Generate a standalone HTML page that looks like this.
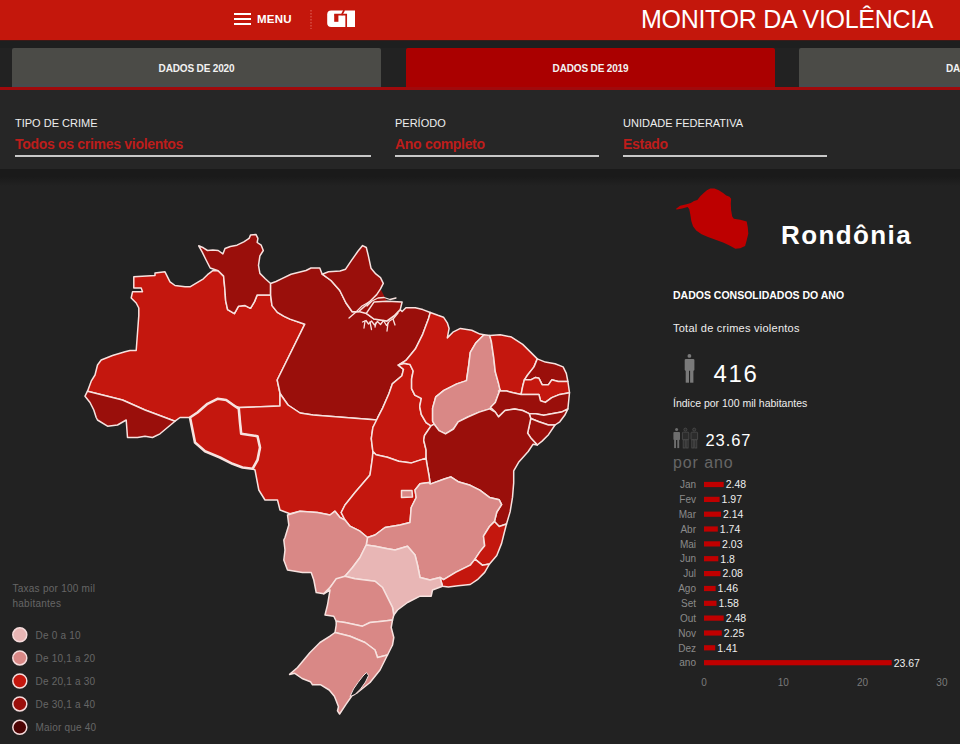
<!DOCTYPE html>
<html><head><meta charset="utf-8">
<style>
*{margin:0;padding:0;box-sizing:border-box}
html,body{width:960px;height:744px;overflow:hidden;background:#222222;font-family:"Liberation Sans",sans-serif}
.abs{position:absolute;white-space:nowrap}
#hdr{position:absolute;left:0;top:0;width:960px;height:40px;background:#c4170c}
.tab{position:absolute;top:48px;height:40px;background:#4b4b47;border-bottom:4px solid #484b4d;color:#f2f2f2;font-size:10px;font-weight:bold;text-align:center;line-height:41px;border-radius:2px 2px 0 0;letter-spacing:-0.15px}
.tab.on{background:#aa0000;border-bottom-color:#aa0000}
#redline{position:absolute;left:0;top:87px;width:960px;height:3px;background:#a00a0c}
#filters{position:absolute;left:0;top:90px;width:960px;height:79px;background:#262626}
#shadow{position:absolute;left:0;top:169px;width:960px;height:17px;background:linear-gradient(#1a1a1a 0%,#1a1a1a 45%,#222222 100%)}
#band{position:absolute;left:0;top:40px;width:960px;height:8px;background:#1e1f1f;border-top:1px solid #3a1a18}
.flab{position:absolute;top:117px;color:#eeeeee;font-size:11px}
.fval{position:absolute;top:135.5px;color:#bd1d1b;font-size:14px;font-weight:bold;letter-spacing:-0.3px}
.fline{position:absolute;top:155px;height:1.6px;background:#c8c8c8}
</style></head><body>
<div id="hdr"></div>
<div id="band"></div>
<svg class="abs" style="left:0;top:0" width="960" height="40">
  <rect x="234" y="13" width="17" height="2" fill="#fff"/>
  <rect x="234" y="18" width="17" height="2" fill="#fff"/>
  <rect x="234" y="23" width="17" height="2" fill="#fff"/>
  <line x1="311" y1="10" x2="311" y2="29" stroke="#e06a60" stroke-width="1" stroke-dasharray="1.5,1.5"/>
</svg>
<div class="abs" style="left:257px;top:12px;color:#fff;font-size:11.5px;font-weight:bold;line-height:14px;letter-spacing:0.25px">MENU</div>
<svg class="abs" style="left:0;top:0" width="400" height="40">
  <path d="M327.2,14.5 Q327.2,10.5 331.2,10.5 L355,10.5 L355,27.1 L331.2,27.1 Q327.2,27.1 327.2,23.1 Z" fill="#fff"/>
  <rect x="334.2" y="14.6" width="4.2" height="7.2" fill="#c4170c"/>
  <path d="M344.2,10 L341.8,14.6 L334.2,14.6" stroke="#c4170c" stroke-width="1.7" fill="none"/>
  <path d="M341.8,14.6 L346.2,14.6 L346.2,27.6" stroke="#c4170c" stroke-width="1.7" fill="none"/>
</svg>
<div class="abs" style="left:641px;top:4px;color:#fff;font-size:25px;line-height:30px;letter-spacing:-0.3px">MONITOR DA VIOLÊNCIA</div>

<div class="tab" style="left:12px;width:369px">DADOS DE 2020</div>
<div class="tab on" style="left:406px;width:369px">DADOS DE 2019</div>
<div class="tab" style="left:799px;width:200px;text-align:left;padding-left:147px">DADOS DE 2018</div>
<div id="redline"></div>

<div id="filters"></div>
<div id="shadow"></div>
<div class="flab abs" style="left:15px">TIPO DE CRIME</div>
<div class="fval abs" style="left:15px">Todos os crimes violentos</div>
<div class="fline" style="left:15px;width:356px"></div>
<div class="flab abs" style="left:395px">PERÍODO</div>
<div class="fval abs" style="left:395px">Ano completo</div>
<div class="fline" style="left:395px;width:204px"></div>
<div class="flab abs" style="left:623px">UNIDADE FEDERATIVA</div>
<div class="fval abs" style="left:623px">Estado</div>
<div class="fline" style="left:623px;width:204px"></div>

<svg class="abs" style="left:0;top:0" width="960" height="744" font-family="Liberation Sans">
<polygon points="349.0,318.0 352.2,311.8 358.8,311.5 366.3,304.9 371.0,300.2 376.7,294.6 380.5,288.9 387.0,301.2 373.9,302.1 366.3,313.4 362.0,323.0" fill="#9a0f0b"/>
<polygon points="133.8,276.8 155.0,275.5 155.0,273.0 165.0,271.8 167.5,276.8 170.0,281.8 175.0,285.5 185.0,286.8 190.0,286.8 196.7,282.8 203.4,278.8 207.5,274.7 212.8,270.7 218.2,270.7 223.6,276.1 224.9,289.5 225.6,300.3 227.6,309.7 234.4,313.7 238.4,306.3 245.1,305.6 250.5,308.3 254.5,301.6 257.2,294.9 270.6,294.9 272.0,305.6 277.4,312.4 284.1,316.4 290.0,319.1 304.8,324.2 277.2,380.0 280.0,393.0 280.0,406.0 240.0,407.5 235.0,406.2 226.2,400.0 217.5,398.8 207.5,403.8 197.5,412.5 190.0,417.5 180.0,417.5 175.0,421.2 145.0,410.0 122.5,400.0 87.5,391.2 91.2,381.2 95.0,375.0 97.5,365.0 101.2,360.0 112.5,355.5 125.0,351.8 130.0,350.5 136.2,350.5 138.8,315.5 138.8,308.0 136.2,303.0 131.2,298.0 132.5,291.8 142.5,291.8 141.2,288.0 133.8,288.0" fill="#c4170e" stroke="#f7e2df" stroke-width="1.5" stroke-linejoin="round"/>
<polygon points="198.7,245.8 203.4,247.8 207.5,250.5 212.8,249.9 218.2,250.5 222.9,253.9 225.0,248.5 230.3,246.5 237.0,245.2 243.8,241.8 249.1,238.4 250.5,235.1 255.9,234.4 257.9,238.4 257.2,242.5 261.2,245.2 263.3,250.5 259.9,255.9 258.5,265.3 259.9,273.4 265.3,278.8 270.6,283.5 270.6,294.9 257.2,294.9 254.5,301.6 250.5,308.3 245.1,305.6 238.4,306.3 234.4,313.7 227.6,309.7 225.6,300.3 224.9,289.5 223.6,276.1 218.2,270.7 210.2,268.0 206.1,260.0 202.1,251.9" fill="#9a0f0b" stroke="#f7e2df" stroke-width="1.5" stroke-linejoin="round"/>
<polygon points="87.5,391.2 122.5,400.0 145.0,410.0 175.0,421.2 167.5,427.5 160.0,433.8 152.5,437.5 145.0,436.2 137.5,437.5 127.5,437.5 126.2,420.0 117.5,425.0 107.5,426.2 97.5,420.0 96.2,417.5 93.8,410.0 90.0,402.5 85.0,396.2" fill="#9a0f0b" stroke="#f7e2df" stroke-width="1.5" stroke-linejoin="round"/>
<polygon points="270.6,283.5 276.0,281.5 281.4,278.8 291.0,274.2 306.0,270.5 311.0,268.0 319.8,268.0 322.2,274.2 331.0,280.5 339.8,290.5 346.0,303.0 352.2,311.8 358.8,311.5 366.3,313.4 373.9,319.0 387.0,320.9 394.6,315.3 400.2,309.6 402.1,311.5 405.9,307.7 415.3,307.7 422.8,309.6 430.3,312.5 428.4,319.0 422.8,334.1 415.3,349.1 405.9,360.4 398.3,365.1 403.5,369.4 401.9,375.8 392.3,383.9 389.0,393.5 382.6,408.1 377.7,417.7 377.5,420.0 313.0,415.0 300.0,413.0 288.0,405.0 281.0,395.0 280.0,393.0 277.2,380.0 304.8,324.2 290.0,319.1 284.1,316.4 277.4,312.4 272.0,305.6 270.6,294.9" fill="#9a0f0b" stroke="#f7e2df" stroke-width="1.5" stroke-linejoin="round"/>
<polygon points="373.9,302.1 387.0,301.2 402.1,302.1 400.2,309.6 394.6,315.3 387.0,320.9 373.9,319.0 366.3,313.4" fill="#9a0f0b" stroke="#f7e2df" stroke-width="1.5" stroke-linejoin="round"/>
<polygon points="322.2,274.2 328.5,271.8 340.0,271.0 345.6,269.2 351.3,260.7 357.9,251.3 362.6,245.6 366.3,247.5 368.2,255.1 371.0,268.2 375.8,273.9 380.5,277.6 383.3,283.3 380.5,288.9 376.7,294.6 371.0,300.2 366.3,304.9 358.8,311.5 352.2,311.8 346.0,303.0 339.8,290.5 331.0,280.5" fill="#9a0f0b" stroke="#f7e2df" stroke-width="1.5" stroke-linejoin="round"/>
<polygon points="240.0,407.5 280.0,406.0 280.0,393.0 281.0,395.0 288.0,405.0 300.0,413.0 313.0,415.0 377.5,420.0 372.9,427.4 371.3,438.7 372.9,451.6 372.5,457.5 370.0,475.0 355.0,492.5 345.0,505.0 341.2,512.5 345.0,520.0 340.0,517.5 335.0,511.2 330.0,515.0 317.5,512.5 300.0,511.2 290.0,513.8 280.0,510.0 277.5,500.0 265.0,500.0 258.8,490.0 255.0,470.0 252.5,468.8 257.5,460.0 260.0,447.5 257.5,436.2 241.2,433.8 240.0,422.5 238.8,408.8" fill="#c4170e" stroke="#f7e2df" stroke-width="1.5" stroke-linejoin="round"/>
<polygon points="398.3,365.1 404.0,363.3 410.0,364.5 413.2,371.0 411.6,379.0 411.6,388.7 414.8,395.2 421.3,398.4 419.7,406.5 421.3,414.5 426.1,422.6 431.0,425.8 424.5,435.5 423.7,440.3 426.1,450.0 426.1,458.1 411.6,462.9 398.7,461.3 387.4,457.3 376.1,454.8 372.9,451.6 371.3,438.7 372.9,427.4 377.7,417.7 382.6,408.1 389.0,393.5 392.3,383.9 401.9,375.8 403.5,369.4" fill="#c4170e" stroke="#f7e2df" stroke-width="1.5" stroke-linejoin="round"/>
<polygon points="430.3,312.5 437.9,315.3 443.5,317.2 447.3,322.8 449.1,328.4 447.3,337.9 452.9,332.2 460.4,328.4 471.7,330.3 480.0,334.1 484.0,334.7 476.0,342.7 470.3,352.4 468.7,365.3 466.5,380.6 456.8,383.9 443.9,390.3 435.8,396.8 432.6,408.1 432.6,421.0 434.2,424.2 431.0,425.8 426.1,422.6 421.3,414.5 419.7,406.5 421.3,398.4 414.8,395.2 411.6,388.7 411.6,379.0 413.2,371.0 410.0,364.5 404.0,363.3 398.3,365.1 405.9,360.4 415.3,349.1 422.8,334.1 428.4,319.0" fill="#c4170e" stroke="#f7e2df" stroke-width="1.5" stroke-linejoin="round"/>
<polygon points="484.0,334.7 489.7,335.5 491.3,341.1 493.7,357.3 495.3,371.8 498.5,383.1 500.2,389.5 497.7,396.0 495.3,402.4 489.7,408.9 479.2,412.1 467.9,417.0 458.2,421.8 453.5,429.0 445.5,433.9 439.0,430.6 434.2,424.2 432.6,421.0 432.6,408.1 435.8,396.8 443.9,390.3 456.8,383.9 466.5,380.6 468.7,365.3 470.3,352.4 476.0,342.7" fill="#d98886" stroke="#f7e2df" stroke-width="1.5" stroke-linejoin="round"/>
<polygon points="489.7,335.5 500.2,334.7 511.5,337.1 522.7,344.4 530.8,352.4 537.3,358.9 534.0,366.9 527.6,375.0 524.4,379.8 522.7,386.3 521.1,394.4 513.1,392.7 506.6,391.1 500.2,391.1 498.5,383.1 495.3,371.8 493.7,357.3 491.3,341.1" fill="#c4170e" stroke="#f7e2df" stroke-width="1.5" stroke-linejoin="round"/>
<polygon points="537.3,358.9 545.3,362.1 555.0,363.7 563.1,366.9 566.3,373.4 567.9,381.5 558.2,381.5 551.8,379.8 548.5,384.7 542.1,384.7 538.9,378.2 535.6,377.4 530.8,379.8 524.4,379.8 527.6,375.0 534.0,366.9" fill="#9a0f0b" stroke="#f7e2df" stroke-width="1.5" stroke-linejoin="round"/>
<polygon points="524.4,379.8 530.8,379.8 535.6,377.4 538.9,378.2 542.1,384.7 548.5,384.7 551.8,379.8 558.2,381.5 567.9,381.5 569.5,392.7 559.8,394.4 551.8,397.6 545.3,402.4 540.5,400.8 538.9,394.4 530.8,394.4 521.1,394.4 522.7,386.3" fill="#c4170e" stroke="#f7e2df" stroke-width="1.5" stroke-linejoin="round"/>
<polygon points="498.5,391.1 506.6,391.1 513.1,392.7 521.1,394.4 530.8,394.4 538.9,394.4 540.5,400.8 545.3,402.4 551.8,397.6 559.8,394.4 569.5,392.7 568.7,400.8 567.9,408.9 561.5,412.1 551.8,413.7 543.7,415.3 535.6,413.7 529.2,413.7 522.7,410.5 514.7,408.9 505.0,410.5 498.5,416.9 495.3,412.1 490.5,407.3 495.3,402.4 497.7,396.0 500.2,389.5" fill="#9a0f0b" stroke="#f7e2df" stroke-width="1.5" stroke-linejoin="round"/>
<polygon points="529.2,413.7 535.6,413.7 543.7,415.3 551.8,413.7 561.5,412.1 567.9,408.9 564.7,415.3 559.8,421.8 555.0,425.0 548.5,425.0 538.9,421.8 530.8,418.5" fill="#9a0f0b" stroke="#f7e2df" stroke-width="1.5" stroke-linejoin="round"/>
<polygon points="530.8,418.5 538.9,421.8 548.5,425.0 555.0,425.0 548.5,434.7 542.1,441.1 537.3,445.0 530.8,437.9 527.6,433.1" fill="#9a0f0b" stroke="#f7e2df" stroke-width="1.5" stroke-linejoin="round"/>
<polygon points="431.0,425.8 434.2,424.2 439.0,430.6 445.5,433.9 453.5,429.0 458.2,421.8 467.9,417.0 479.2,412.1 489.7,408.9 495.3,412.1 498.5,416.9 505.0,410.5 514.7,408.9 522.7,410.5 529.2,413.7 530.8,418.5 527.6,433.1 530.8,437.9 537.3,445.0 533.1,444.2 528.2,451.5 518.6,462.3 513.7,470.8 513.7,482.9 512.5,497.4 510.1,511.9 506.5,524.0 499.2,526.5 494.4,521.6 496.8,512.0 501.6,504.7 499.2,499.8 489.5,497.4 479.8,490.2 470.2,485.3 458.1,481.7 450.8,476.9 443.6,479.3 430.2,484.1 429.0,475.6 426.6,462.3 426.1,458.1 426.1,450.0 423.7,440.3 424.5,435.5" fill="#9a0f0b" stroke="#f7e2df" stroke-width="1.5" stroke-linejoin="round"/>
<polygon points="372.5,457.5 372.9,451.6 376.1,454.8 387.4,457.3 398.7,461.3 411.6,462.9 426.1,458.1 426.6,462.3 429.0,475.6 430.2,484.1 428.8,482.5 420.0,483.8 415.0,490.0 416.2,497.5 411.2,507.5 410.0,522.5 400.0,525.0 385.0,527.5 375.0,535.0 367.5,537.5 360.0,531.2 350.0,526.2 345.0,520.0 341.2,512.5 345.0,505.0 355.0,492.5 370.0,475.0" fill="#c4170e" stroke="#f7e2df" stroke-width="1.5" stroke-linejoin="round"/>
<polygon points="367.5,537.5 375.0,535.0 385.0,527.5 400.0,525.0 410.0,522.5 411.2,507.5 416.2,497.5 415.0,490.0 420.0,483.8 428.8,482.5 430.2,484.1 443.6,479.3 450.8,476.9 458.1,481.7 470.2,485.3 479.8,490.2 489.5,497.4 499.2,499.8 501.6,504.7 496.8,512.0 494.4,521.6 489.5,526.5 483.5,536.1 484.7,545.8 479.8,551.9 475.0,559.1 470.2,565.2 455.6,572.4 443.6,579.7 440.0,577.5 430.0,580.0 420.0,577.5 417.5,565.0 415.0,555.0 407.5,546.2 395.0,550.0 387.5,548.8 375.0,546.2 366.2,545.0" fill="#d98886" stroke="#f7e2df" stroke-width="1.5" stroke-linejoin="round"/>
<polygon points="494.4,521.6 499.2,526.5 506.5,524.0 504.0,533.7 501.6,543.4 496.8,555.5 489.5,564.0 482.3,565.2 475.0,559.1 479.8,551.9 484.7,545.8 483.5,536.1 489.5,526.5" fill="#c4170e" stroke="#f7e2df" stroke-width="1.5" stroke-linejoin="round"/>
<polygon points="440.0,577.5 443.6,579.7 455.6,572.4 470.2,565.2 475.0,559.1 482.3,565.2 489.5,564.0 484.7,572.4 477.4,579.7 470.2,584.5 458.1,585.7 448.4,586.9 442.5,586.2" fill="#c4170e" stroke="#f7e2df" stroke-width="1.5" stroke-linejoin="round"/>
<polygon points="287.5,515.0 300.0,511.2 317.5,512.5 330.0,515.0 335.0,511.2 340.0,517.5 345.0,520.0 350.0,526.2 360.0,531.2 367.5,537.5 366.2,545.0 360.0,557.5 352.5,567.5 345.0,576.2 336.2,580.0 330.0,587.5 323.8,593.8 316.2,592.5 313.8,580.0 311.2,572.5 302.5,572.5 287.5,570.0 283.8,560.0 285.0,550.0 283.8,540.0 285.0,537.5 288.8,525.0" fill="#d98886" stroke="#f7e2df" stroke-width="1.5" stroke-linejoin="round"/>
<polygon points="366.2,545.0 375.0,546.2 387.5,548.8 395.0,550.0 407.5,546.2 415.0,555.0 417.5,565.0 420.0,577.5 430.0,580.0 440.0,577.5 442.5,586.2 432.5,590.0 431.2,596.2 420.0,596.2 407.5,602.5 397.5,610.0 393.8,615.0 392.5,607.5 387.5,597.5 382.5,587.5 375.0,581.2 355.0,578.8 345.0,576.2 352.5,567.5 360.0,557.5" fill="#e8b6b5" stroke="#f7e2df" stroke-width="1.5" stroke-linejoin="round"/>
<polygon points="336.2,578.8 345.0,576.2 355.0,578.8 375.0,581.2 382.5,587.5 387.5,597.5 392.5,607.5 393.8,615.0 392.5,620.0 382.5,621.2 370.0,622.5 362.5,626.2 345.0,622.5 336.2,621.2 333.8,616.2 325.0,615.0 327.5,605.0 330.0,590.0 323.8,593.8 330.0,587.5" fill="#d98886" stroke="#f7e2df" stroke-width="1.5" stroke-linejoin="round"/>
<polygon points="336.2,621.2 345.0,622.5 362.5,626.2 370.0,622.5 382.5,621.2 392.5,620.0 391.2,627.5 393.8,637.5 392.5,645.0 387.5,655.0 377.5,657.5 375.0,650.0 365.0,642.5 350.0,636.2 335.0,632.5 336.2,625.0" fill="#d98886" stroke="#f7e2df" stroke-width="1.5" stroke-linejoin="round"/>
<polygon points="335.0,632.5 350.0,636.2 365.0,642.5 375.0,650.0 377.5,657.5 387.5,655.0 380.0,670.0 370.0,682.5 357.5,692.5 352.1,695.5 345.8,704.6 339.6,714.0 337.5,710.8 338.5,706.7 336.5,701.5 334.4,696.3 329.2,690.0 320.8,684.8 312.5,684.8 310.4,681.7 302.1,678.5 294.8,673.3 289.6,674.4 297.5,667.5 310.0,652.5 320.0,642.5 330.0,636.2" fill="#d98886" stroke="#f7e2df" stroke-width="1.5" stroke-linejoin="round"/>
<polygon points="401.5,490.5 412.0,490.5 412.5,497.0 401.5,497.5" fill="#d98886" stroke="#f7e2df" stroke-width="1.5" stroke-linejoin="round"/>
<polygon points="190.0,417.5 192.5,430.0 195.0,442.5 205.0,451.2 220.0,457.5 232.5,463.8 242.5,467.5 252.5,468.8 257.5,460.0 260.0,447.5 257.5,436.2 241.2,433.8 240.0,422.5 238.8,408.8 235.0,406.2 226.2,400.0 217.5,398.8 207.5,403.8 197.5,412.5" fill="#c4170e" stroke="#f7e2df" stroke-width="2.6" stroke-linejoin="round"/>
<polygon points="350.0,696.5 353.5,689.0 358.0,682.5 363.0,676.0 366.5,672.5 368.5,675.5 365.5,682.0 360.5,689.0 355.0,694.5" fill="#222" stroke="#f3dcdc" stroke-width="1"/>
<polyline points="362.5,322.0 366.0,320.5 368.5,324.0 371.5,321.0 374.5,325.0 377.5,321.5 380.5,324.5 383.5,320.5 386.5,325.5 389.5,321.0 393.5,318.5 398.0,313.0" fill="none" stroke="#f7e2df" stroke-width="1.3" stroke-linejoin="round" stroke-linecap="round"/>
<polyline points="365.0,321.0 364.0,328.0" fill="none" stroke="#f7e2df" stroke-width="1.3" stroke-linejoin="round" stroke-linecap="round"/>
<polyline points="370.0,322.0 371.5,329.5" fill="none" stroke="#f7e2df" stroke-width="1.3" stroke-linejoin="round" stroke-linecap="round"/>
<polyline points="376.0,323.0 375.0,327.0" fill="none" stroke="#f7e2df" stroke-width="1.3" stroke-linejoin="round" stroke-linecap="round"/>
<polyline points="388.0,323.0 387.0,331.0" fill="none" stroke="#f7e2df" stroke-width="1.3" stroke-linejoin="round" stroke-linecap="round"/>
<polyline points="393.0,319.0 395.0,325.0" fill="none" stroke="#f7e2df" stroke-width="1.3" stroke-linejoin="round" stroke-linecap="round"/>
<polyline points="367.0,306.0 372.0,301.0 378.0,298.0 384.0,297.5 390.0,299.5 396.0,298.0" fill="none" stroke="#f7e2df" stroke-width="1.3" stroke-linejoin="round" stroke-linecap="round"/>
<polyline points="349.0,318.0 356.0,312.0 362.0,306.0 369.0,302.0" fill="none" stroke="#f7e2df" stroke-width="1.3" stroke-linejoin="round" stroke-linecap="round"/>
<polygon points="675.8,209.0 680.1,205.8 686.5,204.2 690.8,203.1 694.0,201.0 697.3,199.9 700.5,196.1 703.7,192.9 706.9,190.2 710.2,188.6 714.5,188.4 718.8,190.2 723.1,192.9 726.3,195.6 729.5,196.7 731.1,198.8 730.8,203.7 731.1,210.1 732.2,216.6 733.8,218.7 740.3,219.8 746.7,221.4 747.8,227.3 748.3,233.8 746.7,240.2 745.1,246.1 740.3,248.3 735.4,248.8 729.5,245.6 723.1,242.4 715.5,239.7 708.0,237.0 701.6,234.3 696.2,230.5 693.0,226.2 691.3,220.9 690.3,214.4 689.2,209.0 687.6,206.9 682.2,208.5 676.8,209.6" fill="#bd0000"/>
<g fill="#7a7a7a">
 <circle cx="689.4" cy="355.9" r="1.9"/>
 <rect x="684.7" y="358.9" width="9.7" height="11.8" rx="1.2"/>
 <rect x="685.7" y="369" width="3.3" height="13.7"/>
 <rect x="690.1" y="369" width="3.3" height="13.7"/>
</g>
<g fill="#6e6e6e">
 <circle cx="676.6" cy="429.6" r="1.5"/>
 <rect x="673.4" y="432.1" width="6.6" height="7.9" rx="0.8"/>
 <rect x="674.1" y="439.5" width="1.9" height="8.6"/>
 <rect x="677.3" y="439.5" width="1.9" height="8.6"/>
</g>
<g fill="#2c2c2c" stroke="#4e4e4e" stroke-width="0.8">
 <circle cx="685.4" cy="429.6" r="1.5"/>
 <rect x="682.4" y="432.2" width="6.4" height="7.6" rx="0.8"/>
 <rect x="683.2" y="439.8" width="2" height="8.2"/>
 <rect x="686.1" y="439.8" width="2" height="8.2"/>
 <circle cx="694.2" cy="429.6" r="1.5"/>
 <rect x="691" y="432.2" width="6.6" height="7.6" rx="0.8"/>
 <rect x="691.8" y="439.8" width="2" height="8.2"/>
 <rect x="694.8" y="439.8" width="2" height="8.2"/>
</g>
<rect x="704.0" y="481.9" width="19.7" height="5.2" fill="#c00000"/>
<text x="696" y="488.1" text-anchor="end" fill="#8a8a8a" font-size="10">Jan</text>
<text x="725.7" y="488.3" fill="#eeeeee" font-size="10.5" stroke="#222" stroke-width="0" >2.48</text>
<rect x="704.0" y="496.8" width="15.6" height="5.2" fill="#c00000"/>
<text x="696" y="503.0" text-anchor="end" fill="#8a8a8a" font-size="10">Fev</text>
<text x="721.6" y="503.2" fill="#eeeeee" font-size="10.5" stroke="#222" stroke-width="0" >1.97</text>
<rect x="704.0" y="511.6" width="17.0" height="5.2" fill="#c00000"/>
<text x="696" y="517.8" text-anchor="end" fill="#8a8a8a" font-size="10">Mar</text>
<text x="723.0" y="518.0" fill="#eeeeee" font-size="10.5" stroke="#222" stroke-width="0" >2.14</text>
<rect x="704.0" y="526.4" width="13.8" height="5.2" fill="#c00000"/>
<text x="696" y="532.6" text-anchor="end" fill="#8a8a8a" font-size="10">Abr</text>
<text x="719.8" y="532.8" fill="#eeeeee" font-size="10.5" stroke="#222" stroke-width="0" >1.74</text>
<rect x="704.0" y="541.3" width="16.1" height="5.2" fill="#c00000"/>
<text x="696" y="547.5" text-anchor="end" fill="#8a8a8a" font-size="10">Mai</text>
<text x="722.1" y="547.7" fill="#eeeeee" font-size="10.5" stroke="#222" stroke-width="0" >2.03</text>
<rect x="704.0" y="556.1" width="14.3" height="5.2" fill="#c00000"/>
<text x="696" y="562.4" text-anchor="end" fill="#8a8a8a" font-size="10">Jun</text>
<text x="720.3" y="562.5" fill="#eeeeee" font-size="10.5" stroke="#222" stroke-width="0" >1.8</text>
<rect x="704.0" y="571.0" width="16.5" height="5.2" fill="#c00000"/>
<text x="696" y="577.2" text-anchor="end" fill="#8a8a8a" font-size="10">Jul</text>
<text x="722.5" y="577.4" fill="#eeeeee" font-size="10.5" stroke="#222" stroke-width="0" >2.08</text>
<rect x="704.0" y="585.9" width="11.6" height="5.2" fill="#c00000"/>
<text x="696" y="592.1" text-anchor="end" fill="#8a8a8a" font-size="10">Ago</text>
<text x="717.6" y="592.2" fill="#eeeeee" font-size="10.5" stroke="#222" stroke-width="0" >1.46</text>
<rect x="704.0" y="600.7" width="12.5" height="5.2" fill="#c00000"/>
<text x="696" y="606.9" text-anchor="end" fill="#8a8a8a" font-size="10">Set</text>
<text x="718.5" y="607.1" fill="#eeeeee" font-size="10.5" stroke="#222" stroke-width="0" >1.58</text>
<rect x="704.0" y="615.5" width="19.7" height="5.2" fill="#c00000"/>
<text x="696" y="621.8" text-anchor="end" fill="#8a8a8a" font-size="10">Out</text>
<text x="725.7" y="621.9" fill="#eeeeee" font-size="10.5" stroke="#222" stroke-width="0" >2.48</text>
<rect x="704.0" y="630.4" width="17.8" height="5.2" fill="#c00000"/>
<text x="696" y="636.6" text-anchor="end" fill="#8a8a8a" font-size="10">Nov</text>
<text x="723.8" y="636.8" fill="#eeeeee" font-size="10.5" stroke="#222" stroke-width="0" >2.25</text>
<rect x="704.0" y="645.2" width="11.2" height="5.2" fill="#c00000"/>
<text x="696" y="651.5" text-anchor="end" fill="#8a8a8a" font-size="10">Dez</text>
<text x="717.2" y="651.6" fill="#eeeeee" font-size="10.5" stroke="#222" stroke-width="0" >1.41</text>
<rect x="704.0" y="660.1" width="187.7" height="5.2" fill="#c00000"/>
<text x="696" y="666.3" text-anchor="end" fill="#8a8a8a" font-size="10">ano</text>
<text x="893.7" y="666.5" fill="#eeeeee" font-size="10.5" stroke="#222" stroke-width="0" >23.67</text>
<text x="704.0" y="686" text-anchor="middle" fill="#7a7a7a" font-size="10">0</text>
<text x="783.3" y="686" text-anchor="middle" fill="#7a7a7a" font-size="10">10</text>
<text x="862.6" y="686" text-anchor="middle" fill="#7a7a7a" font-size="10">20</text>
<text x="941.9" y="686" text-anchor="middle" fill="#7a7a7a" font-size="10">30</text>
</svg>

<div class="abs" style="left:781px;top:217.5px;color:#fff;font-size:26px;font-weight:bold;letter-spacing:1.4px;line-height:34px">Rondônia</div>
<div class="abs" style="left:673px;top:288px;color:#fff;font-size:10.5px;font-weight:bold;line-height:14px">DADOS CONSOLIDADOS DO ANO</div>
<div class="abs" style="left:673px;top:320.5px;color:#eee;font-size:11px;line-height:14px;letter-spacing:0.25px">Total de crimes violentos</div>
<div class="abs" style="left:713.5px;top:359.5px;color:#fff;font-size:24px;line-height:28px;letter-spacing:1.6px">416</div>
<div class="abs" style="left:673px;top:396px;color:#eee;font-size:10.5px;line-height:14px">Índice por 100 mil habitantes</div>
<div class="abs" style="left:705.5px;top:430px;color:#fff;font-size:16.5px;line-height:20px;letter-spacing:0.9px">23.67</div>
<div class="abs" style="left:673px;top:452.5px;color:#666;font-size:16px;line-height:20px;letter-spacing:0.9px">por ano</div>

<div class="abs" style="left:12.5px;top:582px;color:#666;font-size:10px;line-height:14.5px;letter-spacing:0.25px">Taxas por 100 mil<br>habitantes</div>
<svg class="abs" style="left:0;top:620px" width="120" height="124" font-family="Liberation Sans">
  <circle cx="19.8" cy="14.8" r="7" fill="#e8b6b5" stroke="#f6dcdc" stroke-width="1.5"/>
  <circle cx="19.8" cy="37.9" r="7" fill="#d98886" stroke="#f6dcdc" stroke-width="1.5"/>
  <circle cx="19.8" cy="61" r="7" fill="#c4170e" stroke="#f6dcdc" stroke-width="1.5"/>
  <circle cx="19.8" cy="83.9" r="7" fill="#9a0f0b" stroke="#f6dcdc" stroke-width="1.5"/>
  <circle cx="19.8" cy="107.3" r="7" fill="#4d0404" stroke="#f6dcdc" stroke-width="1.5"/>
  <text letter-spacing="0.2" x="35.5" y="18.5" fill="#666" font-size="10">De 0 a 10</text>
  <text letter-spacing="0.2" x="35.5" y="41.6" fill="#666" font-size="10">De 10,1 a 20</text>
  <text letter-spacing="0.2" x="35.5" y="64.7" fill="#666" font-size="10">De 20,1 a 30</text>
  <text letter-spacing="0.2" x="35.5" y="87.6" fill="#666" font-size="10">De 30,1 a 40</text>
  <text letter-spacing="0.2" x="35.5" y="111" fill="#666" font-size="10">Maior que 40</text>
</svg>
</body></html>
